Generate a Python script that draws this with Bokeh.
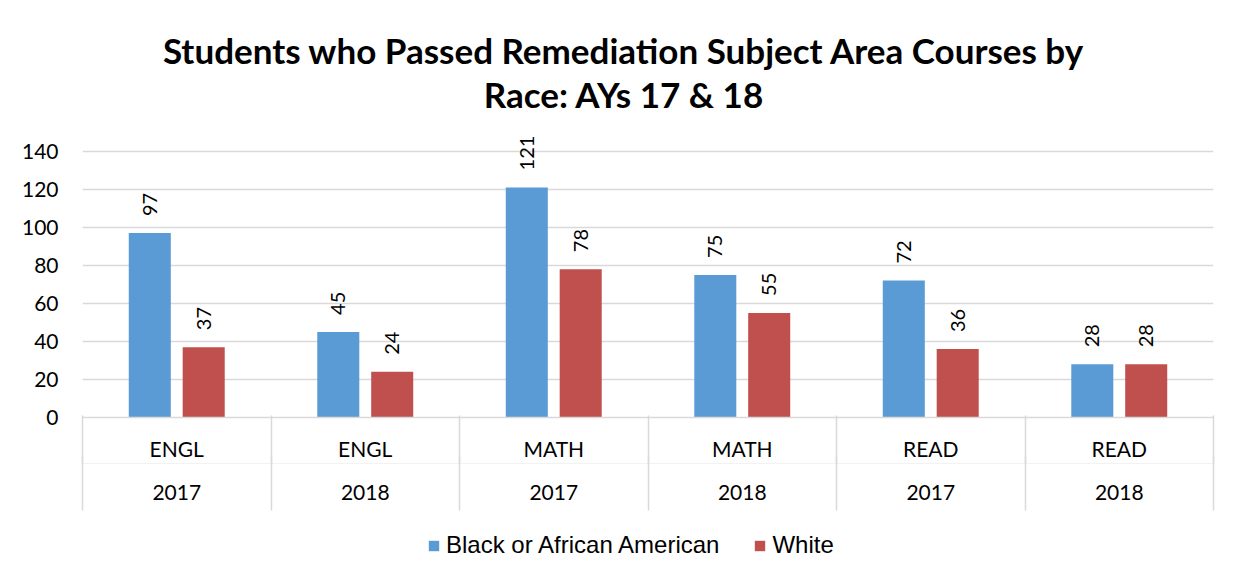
from math import pi
from bokeh.plotting import figure
from bokeh.layouts import column
from bokeh.models import (ColumnDataSource, Range1d, FixedTicker, LinearAxis,
                          Legend, LegendItem)
from bokeh.core.properties import value
from bokeh.embed import file_html
from bokeh.resources import INLINE

# ---- data ----
subjects = ["ENGL", "ENGL", "MATH", "MATH", "READ", "READ"]
years = ["2017", "2018", "2017", "2018", "2017", "2018"]
black = [97, 45, 121, 75, 72, 28]
white = [37, 24, 78, 55, 36, 28]
series_names = ["Black or African American", "White"]
y_ticks = [0, 20, 40, 60, 80, 100, 120, 140]
title_lines = ["Students who Passed Remediation Subject Area Courses by",
               "Race: AYs 17 & 18"]

FONT = "Lato"
LEG_FONT = "Liberation Sans"
BLUE = "#5B9BD5"
RED = "#C0504D"
GRID = "#d9d9d9"

centers = [i + 0.5 for i in range(len(subjects))]
seps = list(range(len(subjects) + 1))
off = 0.143
src = ColumnDataSource(dict(
    xb=[c - off for c in centers], xw=[c + off for c in centers],
    black=black, white=white,
    tb=[str(v) for v in black], tw=[str(v) for v in white],
))


def bare(fig):
    fig.outline_line_color = None
    fig.xgrid.visible = False
    fig.ygrid.visible = False
    return fig


# ---- title strip (pixel coordinates of the page) ----
TH = 128
tf = bare(figure(width=1241, height=TH, output_backend="svg",
                 toolbar_location=None, x_range=Range1d(82, 1213),
                 y_range=Range1d(TH, 0), min_border=0, title=None,
                 x_axis_location=None, y_axis_location=None))
tsrc = ColumnDataSource(dict(x=[623.5, 623.5], y=[49, 93], t=title_lines))
tf.text(x="x", y="y", text="t", source=tsrc, text_align="center",
        text_baseline="middle", text_font=value(FONT), text_font_size="35px",
        text_font_style="bold", text_color="#000000")

# ---- main chart ----
p = figure(width=1241, height=389, output_backend="svg",
           toolbar_location=None,
           x_range=Range1d(0, 6), y_range=Range1d(0, 152),
           min_border_left=82, min_border_right=28, min_border_top=0,
           min_border_bottom=100, title=None, x_axis_location=None)
p.outline_line_color = None
p.xgrid.visible = False
p.ygrid.grid_line_color = GRID
p.ygrid.grid_line_width = 1.5
p.ygrid.ticker = FixedTicker(ticks=y_ticks[1:])

yax = p.yaxis[0]
yax.ticker = FixedTicker(ticks=y_ticks)
yax.axis_line_color = None
yax.major_tick_line_color = None
yax.minor_tick_line_color = None
yax.major_tick_out = 0
yax.major_tick_in = 0
yax.minor_tick_out = 0
yax.major_label_standoff = 24
yax.major_label_text_font = FONT
yax.major_label_text_font_size = "21px"
yax.major_label_text_color = "#000000"

rb = p.vbar(x="xb", top="black", width=0.223, source=src, fill_color=BLUE,
            line_color=None)
rw = p.vbar(x="xw", top="white", width=0.223, source=src, fill_color=RED,
            line_color=None)

for xcol, ycol, tcol in (("xb", "black", "tb"), ("xw", "white", "tw")):
    p.text(x=xcol, y=ycol, text=tcol, source=src, angle=pi / 2,
           text_align="left", text_baseline="middle", y_offset=-17,
           text_font=value(FONT), text_font_size="20px", text_color="#000000")


def base_axis(ax, fs="21px"):
    ax.major_tick_line_color = None
    ax.major_tick_out = 0
    ax.major_tick_in = 0
    ax.major_label_text_font = FONT
    ax.major_label_text_font_size = fs
    ax.major_label_text_color = "#000000"


# row 1: subjects (main category axis line)
ax1 = LinearAxis(ticker=FixedTicker(ticks=centers))
base_axis(ax1)
ax1.major_label_overrides = {c: s for c, s in zip(centers, subjects)}
ax1.axis_line_color = GRID
ax1.axis_line_width = 1.5
ax1.minor_tick_line_color = None
ax1.major_label_standoff = 18
p.add_layout(ax1, "below")

# row 2: years, separators reaching up through row 1
ax2 = LinearAxis(ticker=FixedTicker(ticks=centers, minor_ticks=seps))
base_axis(ax2)
ax2.major_label_overrides = {c: y for c, y in zip(centers, years)}
ax2.axis_line_color = "#f2f2f2"
ax2.minor_tick_line_color = GRID
ax2.minor_tick_line_width = 1.5
ax2.minor_tick_in = 48
ax2.minor_tick_out = 0
ax2.major_label_standoff = 21
p.add_layout(ax2, "below")

# row 2 separators
ax3 = LinearAxis(ticker=FixedTicker(ticks=centers, minor_ticks=seps))
base_axis(ax3, "1px")
ax3.major_label_overrides = {c: "" for c in centers}
ax3.axis_line_color = None
ax3.minor_tick_line_color = GRID
ax3.minor_tick_line_width = 1.5
ax3.minor_tick_in = 46
ax3.minor_tick_out = 8
ax3.major_label_standoff = 0
p.add_layout(ax3, "below")

# ---- legend strip (its bars lie below its visible range) ----
lf = bare(figure(width=1241, height=60, output_backend="svg",
                 toolbar_location=None, x_range=Range1d(0, 6),
                 y_range=Range1d(400, 401), min_border=0, title=None,
                 x_axis_location=None, y_axis_location=None))
lb = lf.vbar(x="xb", top="black", width=0.223, source=src, fill_color=BLUE,
             line_color=None)
lw = lf.vbar(x="xw", top="white", width=0.223, source=src, fill_color=RED,
             line_color=None)
legend = Legend(items=[LegendItem(label=series_names[0], renderers=[lb]),
                       LegendItem(label=series_names[1], renderers=[lw])],
                orientation="horizontal", location=(345, 18),
                label_text_font=LEG_FONT, label_text_font_size="24px",
                label_text_color="#000000",
                glyph_width=13, glyph_height=13, spacing=34, label_standoff=6,
                border_line_color=None, background_fill_alpha=0, padding=0,
                margin=0)
lf.add_layout(legend, "center")

layout = column(tf, p, lf, spacing=0)
open("out.html", "w").write(file_html(layout, INLINE))
